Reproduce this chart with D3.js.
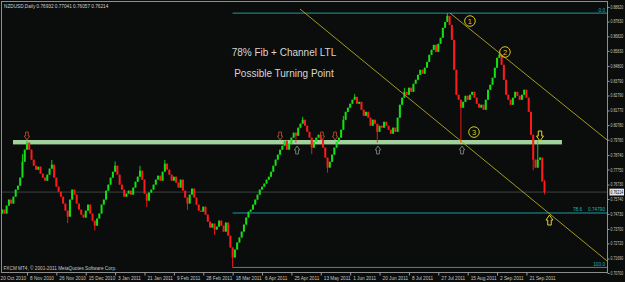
<!DOCTYPE html>
<html>
<head>
<meta charset="utf-8">
<script src="https://cdn.jsdelivr.net/npm/d3@7"></script>
<style>
  html, body { margin: 0; padding: 0; background: #0b0d0c; }
  svg { display: block; }
</style>
</head>
<body>
<svg id="chart" width="625" height="282"></svg>
<script>
// daily closes, in pips (price x 10000), one per bar from 20 Oct 2010
const closePips = [
  7488, 7475, 7502, 7475, 7529, 7570, 7543, 7590, 7638, 7665,
  7720, 7828, 7910, 7958, 7910, 7842, 7801, 7774, 7794, 7747,
  7720, 7699, 7740, 7781, 7808, 7720, 7658, 7624, 7590, 7543,
  7495, 7454, 7570, 7638, 7604, 7543, 7502, 7468, 7448, 7495,
  7536, 7475, 7427, 7393, 7441, 7475, 7536, 7570, 7631, 7672,
  7720, 7760, 7801, 7740, 7672, 7638, 7590, 7611, 7631, 7604,
  7652, 7692, 7726, 7767, 7706, 7611, 7563, 7618, 7638, 7672,
  7706, 7733, 7699, 7760, 7815, 7774, 7740, 7699, 7726, 7686,
  7652, 7706, 7631, 7584, 7543, 7604, 7645, 7584, 7536, 7495,
  7488, 7522, 7468, 7420, 7380, 7407, 7366, 7386, 7427, 7393,
  7352, 7414, 7325, 7244, 7176, 7230, 7278, 7312, 7352, 7400,
  7448, 7488, 7502, 7536, 7570, 7604, 7638, 7658, 7679, 7706,
  7726, 7760, 7801, 7842, 7876, 7910, 7937, 7971, 7910, 7951,
  7992, 8026, 8005, 8060, 8087, 8114, 8073, 8032, 7992, 7924,
  7964, 7992, 8012, 7978, 7924, 7856, 7788, 7828, 7876, 7924,
  7964, 7992, 8046, 8114, 8168, 8196, 8223, 8250, 8270, 8223,
  8236, 8182, 8141, 8168, 8128, 8073, 8114, 8087, 8032, 8073,
  8060, 8100, 8073, 8046, 8019, 8060, 8032, 8128, 8216, 8264,
  8304, 8284, 8332, 8304, 8359, 8386, 8420, 8454, 8427, 8468,
  8508, 8556, 8590, 8624, 8576, 8631, 8672, 8740, 8780, 8821,
  8760, 8658, 8454, 8284, 8250, 8196, 8236, 8277, 8250, 8284,
  8304, 8264, 8223, 8196, 8216, 8182, 8250, 8318, 8352, 8400,
  8468, 8536, 8556, 8488, 8386, 8284, 8250, 8216, 8264, 8304,
  8277, 8250, 8284, 8318, 8264, 8168, 8012, 7842, 7788, 7842,
  7856, 7693, 7621
];
const firstOpen = 0.7470;

// wicks that stick out past the body: [bar, price]
const wickHighs = [[11, 0.7880], [13, 0.7972], [24, 0.7840], [52, 0.7830], [63, 0.7800],
  [74, 0.7840], [135, 0.8134], [153, 0.8140], [158, 0.8290], [180, 0.8330],
  [199, 0.8840], [222, 0.8576], [239, 0.7972], [242, 0.7704]];
const wickLows = [[31, 0.7410], [43, 0.7360], [66, 0.7520], [84, 0.7500], [96, 0.7330],
  [104, 0.71084], [132, 0.7958], [139, 0.7880], [146, 0.7754], [168, 0.7958],
  [205, 0.7958], [237, 0.7770], [242, 0.7606]];

const priceTicks = [0.88820, 0.87830, 0.86820, 0.85830, 0.84800, 0.83790, 0.82790,
  0.81770, 0.80780, 0.79780, 0.78740, 0.77750, 0.76730, 0.75740, 0.74730,
  0.73700, 0.72720, 0.71690, 0.70700];
const dateLabels = ["20 Oct 2010", "8 Nov 2010", "26 Nov 2010", "15 Dec 2010", "3 Jan 2011",
  "21 Jan 2011", "9 Feb 2011", "28 Feb 2011", "18 Mar 2011", "6 Apr 2011", "25 Apr 2011",
  "13 May 2011", "1 Jun 2011", "20 Jun 2011", "8 Jul 2011", "27 Jul 2011", "15 Aug 2011",
  "2 Sep 2011", "21 Sep 2011"];
const barsPerLabel = 13;

// fibonacci from the March low to the August high
const fibHigh = 0.88400, fibLow = 0.71084, fibStartBar = 104;
const fibLevels = [0, 0.786, 1];
const fibNames = ["0.0", "78.6", "100.0"];

// channel lines [bar, price]
const channelUpper = [[200.2, 0.8840], [269.7, 0.7976]];
const channelLower = [[133.8, 0.8868], [269.7, 0.7152]];

// support / resistance zone
const zoneBars = [6.8, 249.7];
const zonePrices = [0.7976, 0.7946];

// hollow arrows: bar positions
const resistArrows = [13, 125, 143.5, 149.3];
const supportArrows = [132.5, 168.3, 205.5];
const resistPrice = 0.8003, supportPrice = 0.7908;
const signalDown = [240, 0.8003];
const signalUp = [244.2, 0.7431];

// numbered points [bar, price, label]
const points = [[209, 0.8786, "1"], [224.5, 0.8575, "2"], [210.8, 0.8030, "3"]];
const notes = ["78% Fib + Channel LTL", "Possible Turning Point"];
const notePrices = [0.8548, 0.8405];
const noteBar = 126.7;

const lastPrice = 0.76214;
const header = "NZDUSD,Daily  0.76932 0.77041 0.76057 0.76214";
const copyright = "FXCM MT4, \u00a9 2001-2011 MetaQuotes Software Corp.";

const font = "'Liberation Sans', Arial, sans-serif";
const small = 4.7; // size of the terminal's small labels
const squeeze = 0.76; // price labels are narrower than normal text
const plotL = 2, plotR = 607.5, plotT = 1.5, plotB = 272.5;

const svg = d3.select("#chart");

const x = d3.scaleLinear().domain([0, 270]).range([-2.4, 607.8]);
const y = d3.scaleLinear().domain([0.7070, 0.8882]).range([273.06, 6.95]);

svg.append("rect").attr("width", 625).attr("height", 282).attr("fill", "#0b0d0c");

svg.append("defs").append("clipPath").attr("id", "plot")
  .append("rect").attr("x", plotL).attr("y", plotT).attr("width", plotR - plotL).attr("height", plotB - plotT);

const plot = svg.append("g").attr("clip-path", "url(#plot)");

// bid line
plot.append("line")
  .attr("x1", plotL).attr("x2", plotR)
  .attr("y1", y(lastPrice)).attr("y2", y(lastPrice))
  .attr("stroke", "#262c2a").attr("stroke-width", 1.6);

// fib lines
fibLevels.forEach((lv, k) => {
  const p = fibHigh - lv * (fibHigh - fibLow);
  plot.append("line")
    .attr("x1", x(fibStartBar)).attr("x2", plotR)
    .attr("y1", y(p)).attr("y2", y(p))
    .attr("stroke", "#1f9c9c").attr("stroke-width", 1);
  const t = svg.append("text")
    .attr("y", y(p) - 1.5).attr("text-anchor", "end")
    .attr("font-family", font).attr("font-size", small).attr("fill", "#22b4b4");
  if (lv === 0.786) {
    t.attr("x", 605).text(d3.format(".5f")(p));
    svg.append("text").attr("x", 582).attr("y", y(p) - 1.5).attr("text-anchor", "end")
      .attr("font-family", font).attr("font-size", small).attr("fill", "#22b4b4")
      .text(fibNames[k]);
  } else {
    t.attr("x", 605).text(fibNames[k]);
  }
});

// zone
plot.append("rect")
  .attr("x", x(zoneBars[0])).attr("width", x(zoneBars[1]) - x(zoneBars[0]))
  .attr("y", y(zonePrices[0])).attr("height", y(zonePrices[1]) - y(zonePrices[0]))
  .attr("fill", "#a2d29b");

// candles
const bars = closePips.map((c, i) => {
  const close = c / 1e4;
  const open = i ? closePips[i - 1] / 1e4 : firstOpen;
  return { i, open, close, high: Math.max(open, close), low: Math.min(open, close) };
});
wickHighs.forEach(([i, p]) => { bars[i].high = p; });
wickLows.forEach(([i, p]) => { bars[i].low = p; });

const colour = d => d.close >= d.open ? "#12e012" : "#ff1a1a";

plot.selectAll(".wick").data(bars).join("line")
  .attr("class", "wick")
  .attr("x1", d => x(d.i)).attr("x2", d => x(d.i))
  .attr("y1", d => y(d.high)).attr("y2", d => y(d.low))
  .attr("stroke", colour).attr("stroke-width", 0.9);

plot.selectAll(".body").data(bars).join("rect")
  .attr("class", "body")
  .attr("x", d => x(d.i) - 1).attr("width", 2)
  .attr("y", d => y(Math.max(d.open, d.close)))
  .attr("height", d => Math.max(1, y(Math.min(d.open, d.close)) - y(Math.max(d.open, d.close))))
  .attr("fill", colour);

// channel
[channelUpper, channelLower].forEach(seg => {
  plot.append("line")
    .attr("x1", x(seg[0][0])).attr("y1", y(seg[0][1]))
    .attr("x2", x(seg[1][0])).attr("y2", y(seg[1][1]))
    .attr("stroke", "#b3aa24").attr("stroke-width", 0.9);
});

// hollow arrows
function arrow(g, cx, cy, dir, w, h, col) {
  const hw = w / 2, sw = w / 4, hh = h / 2;
  const pts = [[-sw, -hh], [sw, -hh], [sw, 0], [hw, 0], [0, hh], [-hw, 0], [-sw, 0]]
    .map(([a, b]) => [cx + a, cy + b * dir]);
  g.append("path").attr("d", d3.line()(pts) + "Z")
    .attr("fill", "none").attr("stroke", col).attr("stroke-width", 1);
}
resistArrows.forEach(b => arrow(plot, x(b), y(resistPrice), 1, 5.5, 8, "#a8432e"));
supportArrows.forEach(b => arrow(plot, x(b), y(supportPrice), -1, 5.5, 8, "#6f7a7a"));
arrow(plot, x(signalDown[0]), y(signalDown[1]), 1, 7, 10, "#e6d41e");
arrow(plot, x(signalUp[0]), y(signalUp[1]), -1, 7, 10, "#e6d41e");

// numbered points
points.forEach(([b, p, lbl]) => {
  plot.append("circle").attr("cx", x(b)).attr("cy", y(p)).attr("r", 5.3)
    .attr("fill", "none").attr("stroke", "#d8c61c").attr("stroke-width", 1);
  plot.append("text").attr("x", x(b)).attr("y", y(p) + 2.6)
    .attr("text-anchor", "middle").attr("font-family", font).attr("font-size", 7.5)
    .attr("fill", "#d8c61c").text(lbl);
});

// notes
notes.forEach((t, k) => {
  svg.append("text").attr("x", x(noteBar)).attr("y", y(notePrices[k]))
    .attr("text-anchor", "middle").attr("font-family", font).attr("font-size", 10)
    .attr("fill", "#d6d6d6").text(t);
});

// frame
svg.append("rect").attr("x", 1.5).attr("y", plotT).attr("width", plotR - 1.5).attr("height", plotB - plotT)
  .attr("fill", "none").attr("stroke", "#8e8e8e").attr("stroke-width", 1);

// price axis
const yAxis = svg.append("g").attr("transform", `translate(${plotR},0)`)
  .call(d3.axisRight(y).tickValues(priceTicks).tickFormat(d3.format(".5f"))
    .tickSize(2).tickSizeOuter(0).tickPadding(0.8));
yAxis.select(".domain").remove();
yAxis.selectAll("line").attr("stroke", "#9a9a9a");
yAxis.selectAll("text").attr("fill", "#c4c4c4").attr("font-family", font).attr("font-size", 4.6)
  .attr("x", 3 / squeeze).attr("transform", `scale(${squeeze},1)`);

// current price tag
svg.append("rect").attr("x", 609.5).attr("y", y(lastPrice) - 3.4).attr("width", 14.5).attr("height", 6.8)
  .attr("fill", "#e6e6e6");
svg.append("text")
  .attr("transform", `translate(610.5,${y(lastPrice) + 1.7}) scale(${squeeze},1)`)
  .attr("font-family", font).attr("font-size", 4.6).attr("fill", "#000")
  .text(d3.format(".5f")(lastPrice));

// date axis
const xAxis = svg.append("g").attr("transform", `translate(0,${plotB})`)
  .call(d3.axisBottom(x).tickValues(dateLabels.map((d, k) => k * barsPerLabel))
    .tickFormat((d, k) => dateLabels[k]).tickSize(3).tickSizeOuter(0).tickPadding(1.5));
xAxis.select(".domain").remove();
xAxis.selectAll("line").attr("stroke", "#9a9a9a");
xAxis.selectAll("text").attr("text-anchor", "start").attr("x", 2.5).attr("dy", "0.6em")
  .attr("fill", "#c4c4c4").attr("font-family", font).attr("font-size", small);

// header + copyright
svg.append("text").attr("x", 4).attr("y", 7.5).attr("font-family", font).attr("font-size", small)
  .attr("fill", "#d0d0d0").text(header);
svg.append("text").attr("x", 3.5).attr("y", 270).attr("font-family", font).attr("font-size", small)
  .attr("fill", "#c8c8c8").text(copyright);
</script>
</body>
</html>
